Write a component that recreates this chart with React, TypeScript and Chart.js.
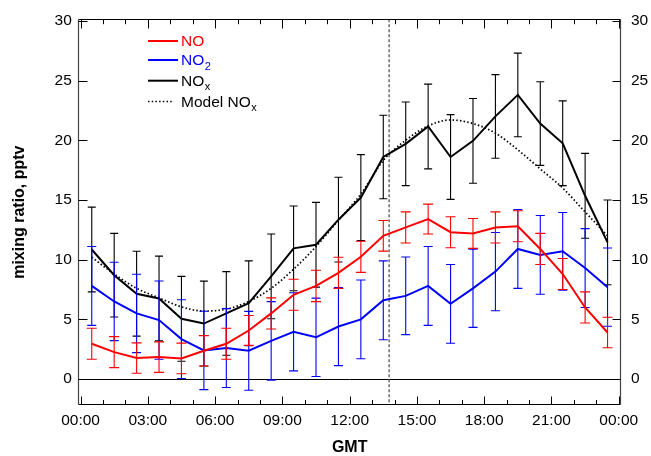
import React, { useEffect, useRef } from "react";
import { Chart, registerables } from "chart.js";

Chart.register(...registerables);

// ---- data ----
const hours = [0.5, 1.5, 2.5, 3.5, 4.5, 5.5, 6.5, 7.5, 8.5, 9.5, 10.5, 11.5, 12.5, 13.5, 14.5, 15.5, 16.5, 17.5, 18.5, 19.5, 20.5, 21.5, 22.5, 23.5];

const noValues = [2.96, 2.26, 1.76, 1.84, 1.73, 2.37, 2.96, 4.07, 5.5, 7.06, 7.8, 8.9, 10.24, 12.0, 12.7, 13.4, 12.3, 12.2, 12.7, 12.8, 10.9, 8.8, 6.0, 3.9];
const noErr = [1.3, 1.3, 1.27, 1.28, 1.28, 1.27, 1.3, 1.25, 1.3, 1.3, 1.31, 1.3, 1.3, 1.28, 1.3, 1.25, 1.3, 1.25, 1.3, 1.3, 1.3, 1.3, 1.3, 1.28];

const no2Values = [7.8, 6.5, 5.5, 4.94, 3.35, 2.4, 2.6, 2.37, 3.2, 3.96, 3.5, 4.4, 5.0, 6.6, 6.97, 7.8, 6.3, 7.6, 9.0, 10.9, 10.4, 10.7, 9.3, 7.7];
const no2Err = [3.3, 3.28, 3.28, 3.28, 3.3, 3.28, 3.3, 3.3, 3.29, 3.27, 3.28, 3.27, 3.3, 3.3, 3.25, 3.3, 3.3, 3.27, 3.28, 3.3, 3.3, 3.25, 3.3, 3.28];

const noxValues = [10.85, 8.7, 7.15, 6.75, 5.05, 4.65, 5.5, 6.35, 8.6, 10.95, 11.25, 13.35, 15.2, 18.6, 19.7, 21.15, 18.6, 19.95, 22.0, 23.8, 21.4, 19.75, 15.35, 11.45];
const noxErr = [3.55, 3.5, 3.55, 3.55, 3.55, 3.55, 3.5, 3.55, 3.55, 3.55, 3.55, 3.55, 3.6, 3.5, 3.5, 3.55, 3.55, 3.55, 3.5, 3.5, 3.5, 3.55, 3.55, 3.55];

const modelNox = [10.2, 8.8, 7.6, 6.8, 6.05, 5.7, 5.85, 6.5, 7.6, 9.2, 11.1, 13.3, 15.5, 18.3, 20.0, 21.2, 21.7, 21.4, 20.6, 19.2, 17.6, 16.0, 14.0, 12.0];

const xTickHours = [0, 3, 6, 9, 12, 15, 18, 21, 24];
const yTickValues = [0, 5, 10, 15, 20, 25, 30];
const markerHour = 13.76;

const legendItems = [
  { main: "NO", sub: "", color: "#ff0000", dotted: false },
  { main: "NO", sub: "2", color: "#0000ff", dotted: false },
  { main: "NO", sub: "x", color: "#000000", dotted: false },
  { main: "Model NO", sub: "x", color: "#000000", dotted: true },
];

const FONT = '"Liberation Sans", Arial, Helvetica, sans-serif';

function fmtHour(v: number) {
  const h = ((Math.round(v) % 24) + 24) % 24;
  return String(h).padStart(2, "0") + ":00";
}

export default function App() {
  const ref = useRef<HTMLCanvasElement>(null);

  useEffect(() => {
    document.body.style.margin = "0";
    const canvas = ref.current!;

    const series = [
      { label: "NO", values: noValues, err: noErr, color: "#ff0000", cap: 10 },
      { label: "NO2", values: no2Values, err: no2Err, color: "#0000ff", cap: 9 },
      { label: "NOx", values: noxValues, err: noxErr, color: "#000000", cap: 8 },
    ];

    const datasets: any[] = series.map((s) => ({
      label: s.label,
      data: hours.map((h, i) => ({ x: h, y: s.values[i] })),
      borderColor: s.color,
      backgroundColor: s.color,
      borderWidth: 2,
      pointRadius: 0,
      tension: 0,
      fill: false,
    }));
    datasets.push({
      label: "Model NOx",
      data: hours.map((h, i) => ({ x: h, y: modelNox[i] })),
      borderColor: "#000000",
      borderWidth: 1.7,
      borderDash: [1.5, 2.2],
      pointRadius: 0,
      tension: 0.4,
      cubicInterpolationMode: "monotone",
      fill: false,
    });

    const decorations = {
      id: "decorations",
      beforeDatasetsDraw(chart: any) {
        const { ctx, chartArea: a, scales } = chart;
        const y0 = Math.round(scales.y.getPixelForValue(0)) + 0.5;
        ctx.save();
        ctx.strokeStyle = "#000";
        ctx.lineWidth = 1;
        ctx.beginPath();
        ctx.moveTo(a.left, y0);
        ctx.lineTo(a.right, y0);
        ctx.stroke();
        const xm = scales.x.getPixelForValue(markerHour);
        ctx.strokeStyle = "#555";
        ctx.lineWidth = 1.3;
        ctx.setLineDash([3, 2]);
        ctx.beginPath();
        ctx.moveTo(xm, a.top);
        ctx.lineTo(xm, a.bottom);
        ctx.stroke();
        ctx.restore();
      },
      afterDatasetDraw(chart: any, args: any) {
        const i = args.index;
        if (i >= series.length) return;
        const s = series[i];
        const { ctx, scales } = chart;
        ctx.save();
        ctx.strokeStyle = s.color;
        ctx.lineWidth = 1.1;
        ctx.beginPath();
        hours.forEach((h, k) => {
          const x = scales.x.getPixelForValue(h);
          const yh = scales.y.getPixelForValue(s.values[k] + s.err[k]);
          const yl = scales.y.getPixelForValue(s.values[k] - s.err[k]);
          ctx.moveTo(x, yh);
          ctx.lineTo(x, yl);
          ctx.moveTo(x - s.cap / 2, yh);
          ctx.lineTo(x + s.cap / 2, yh);
          ctx.moveTo(x - s.cap / 2, yl);
          ctx.lineTo(x + s.cap / 2, yl);
        });
        ctx.stroke();
        ctx.restore();
      },
      afterDraw(chart: any) {
        const { ctx, chartArea: a, scales } = chart;
        ctx.save();
        const L = Math.round(a.left) + 0.5;
        const R = Math.round(a.right) - 0.5;
        const T = Math.round(a.top) + 0.5;
        const B = Math.round(a.bottom) - 0.5;
        ctx.lineWidth = 1;
        ctx.strokeStyle = "#000";
        ctx.beginPath();
        ctx.moveTo(L, T);
        ctx.lineTo(R, T);
        ctx.moveTo(L, B);
        ctx.lineTo(R, B);
        ctx.stroke();
        ctx.strokeStyle = "#444";
        ctx.lineWidth = 1.2;
        ctx.beginPath();
        ctx.moveTo(L, T);
        ctx.lineTo(L, B);
        ctx.moveTo(R, T);
        ctx.lineTo(R, B);
        ctx.stroke();
        // tick marks
        ctx.strokeStyle = "#000";
        ctx.lineWidth = 1;
        ctx.beginPath();
        for (let h = 0; h <= 24; h++) {
          const x = Math.round(scales.x.getPixelForValue(h)) + 0.5;
          const major = h % 3 === 0;
          ctx.moveTo(x, B);
          ctx.lineTo(x, B - (major ? 8 : 4.5));
          ctx.moveTo(x, T);
          ctx.lineTo(x, T + (major ? 9 : 4.7));
        }
        yTickValues.forEach((v) => {
          const y = Math.round(scales.y.getPixelForValue(v)) + 0.5;
          ctx.moveTo(L, y);
          ctx.lineTo(L + 9, y);
          ctx.moveTo(R, y);
          ctx.lineTo(R - 8, y);
        });
        ctx.stroke();

        // legend
        const rows = [41, 60, 80.7, 101.5];
        legendItems.forEach((it, k) => {
          const y = rows[k];
          ctx.strokeStyle = it.color;
          if (it.dotted) {
            ctx.lineWidth = 1.7;
            ctx.setLineDash([1.5, 2.2]);
            ctx.beginPath();
            ctx.moveTo(148, y);
            ctx.lineTo(174, y);
            ctx.stroke();
            ctx.setLineDash([]);
          } else {
            ctx.lineWidth = 2;
            ctx.beginPath();
            ctx.moveTo(148, y);
            ctx.lineTo(178, y);
            ctx.stroke();
          }
          ctx.fillStyle = it.color;
          ctx.textBaseline = "alphabetic";
          ctx.textAlign = "left";
          ctx.font = `15.5px ${FONT}`;
          const base = y + 5.3;
          ctx.fillText(it.main, 181, base);
          const w = ctx.measureText(it.main).width;
          if (it.sub) {
            ctx.font = `11px ${FONT}`;
            ctx.fillText(it.sub, 181 + w + 0.5, base + 4.2);
          }
        });
        ctx.restore();
      },
    };

    const tickFont = { family: FONT, size: 15.5 };
    const titleFont = { family: FONT, size: 16, weight: "bold" as const, lineHeight: 1 };

    const chart = new Chart(canvas, {
      type: "line",
      data: { datasets },
      options: {
        animation: false,
        responsive: false,
        devicePixelRatio: 1,
        layout: { padding: { top: 19.3, left: 0, right: 0, bottom: 0 } },
        plugins: { legend: { display: false }, tooltip: { enabled: false } },
        scales: {
          x: {
            type: "linear",
            min: -0.1,
            max: 24.1,
            afterBuildTicks: (s: any) => {
              s.ticks = xTickHours.map((v) => ({ value: v }));
            },
            afterFit: (s: any) => {
              s.height = 51;
            },
            ticks: {
              callback: (v: any) => fmtHour(Number(v)),
              font: tickFont,
              color: "#000",
              padding: 6,
              maxRotation: 0,
              autoSkip: false,
            },
            grid: { display: false, drawTicks: false },
            border: { display: false },
            title: { display: true, text: "GMT", font: titleFont, color: "#000", padding: { top: 0, bottom: 0 } },
          },
          y: {
            type: "linear",
            position: "left",
            min: -2.17,
            max: 30.13,
            afterBuildTicks: (s: any) => {
              s.ticks = yTickValues.map((v) => ({ value: v }));
            },
            afterFit: (s: any) => {
              s.width = 78.3;
            },
            ticks: { font: tickFont, color: "#000", padding: 6.5 },
            grid: { display: false, drawTicks: false },
            border: { display: false },
            title: {
              display: true,
              text: "mixing ratio, pptv",
              font: titleFont,
              color: "#000",
              padding: { top: 11.5, bottom: 0 },
            },
          },
          y2: {
            type: "linear",
            position: "right",
            min: -2.17,
            max: 30.13,
            afterBuildTicks: (s: any) => {
              s.ticks = yTickValues.map((v) => ({ value: v }));
            },
            afterFit: (s: any) => {
              s.width = 30;
            },
            ticks: { font: tickFont, color: "#000", padding: 10 },
            grid: { display: false, drawTicks: false },
            border: { display: false },
          },
        },
      } as any,
      plugins: [decorations],
    });

    return () => chart.destroy();
  }, []);

  return <canvas ref={ref} width={651} height={456} style={{ display: "block" }} />;
}
